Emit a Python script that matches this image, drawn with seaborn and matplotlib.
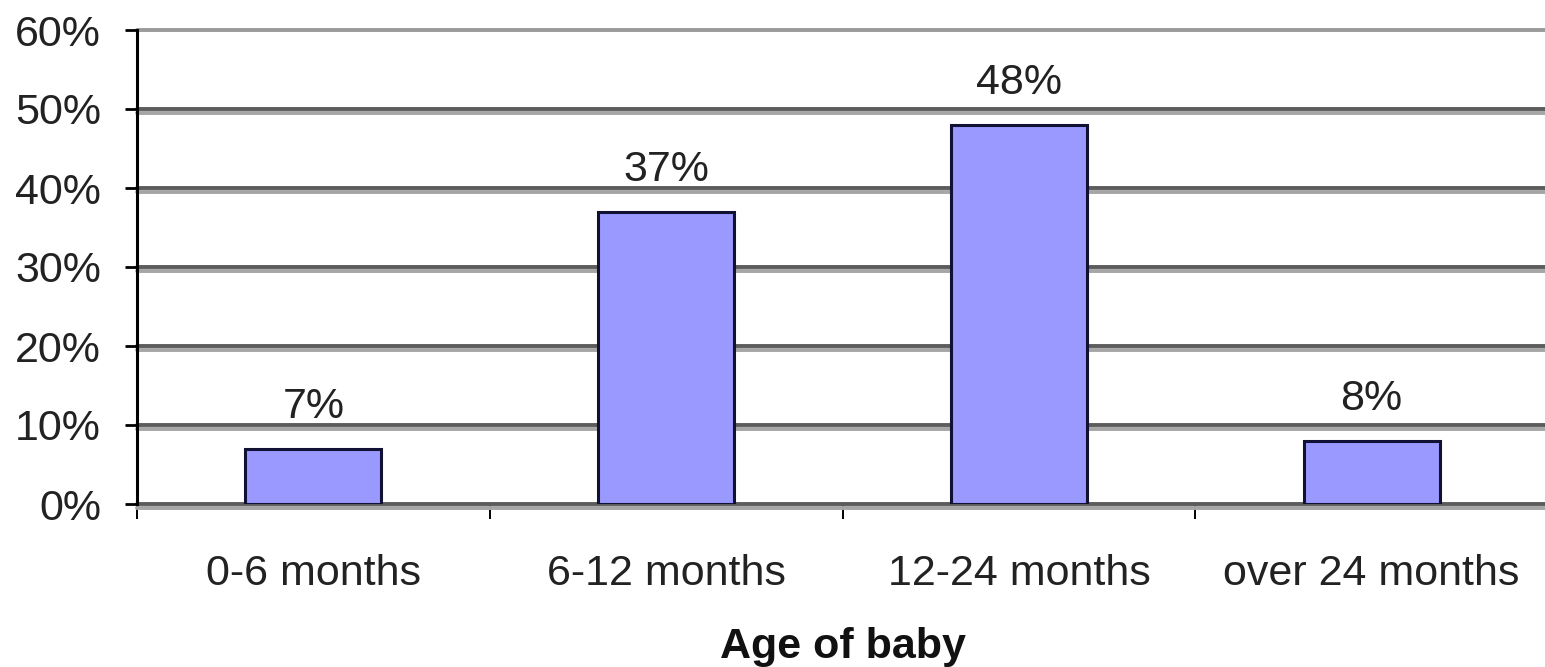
import matplotlib
matplotlib.use("Agg")
import matplotlib.pyplot as plt
import matplotlib.patheffects as pe
from matplotlib.ticker import PercentFormatter
import pandas as pd
import seaborn as sns

# Share of respondents by age of baby
age_groups = ["0-6 months", "6-12 months", "12-24 months", "over 24 months"]
share_pct = [7, 37, 48, 8]
y_ticks = [0, 10, 20, 30, 40, 50, 60]

sns.set_style("white")
plt.rcParams["font.family"] = ["Liberation Sans", "DejaVu Sans"]

W, H = 1545, 667
fig = plt.figure(figsize=(W / 100, H / 100), dpi=100)
ax = fig.add_axes([137 / W, 163 / H, 1411 / W, 474 / H])

df = pd.DataFrame({"age": age_groups, "share": share_pct})
sns.barplot(data=df, x="age", y="share", color="#9999ff", saturation=1,
            width=0.386, edgecolor="#111133", linewidth=2.2, ax=ax, zorder=3)

ax.set_xlim(-0.5, len(age_groups) - 0.5)
ax.set_ylim(0, 60)
ax.set_yticks(y_ticks)
ax.yaxis.set_major_formatter(PercentFormatter(decimals=0))

# Horizontal gridlines with a light drop shadow underneath
ax.set_axisbelow(True)
ax.yaxis.grid(True, color="#5c5c5c", linewidth=2.8)
ax.xaxis.grid(False)
grid_lines = ax.get_ygridlines()
for gl in grid_lines:
    gl.set_clip_on(False)
    gl.set_path_effects([
        pe.SimpleLineShadow(offset=(0, -2.8), shadow_color="#a6a6a6", alpha=1, rho=1),
        pe.Normal(),
    ])
grid_lines[-1].set_color("#9a9a9a")
grid_lines[-1].set_path_effects([])

for side in ("top", "right", "bottom"):
    ax.spines[side].set_visible(False)
ax.spines["left"].set_color("black")
ax.spines["left"].set_linewidth(2.2)

ax.tick_params(axis="y", direction="out", length=9, width=2, color="black",
               pad=17, labelsize=31, labelcolor="#222222", left=True)

# Category labels without tick marks; short marks between categories
ax.set_xticks(range(len(age_groups)))
ax.set_xticks([i - 0.5 for i in range(len(age_groups))], minor=True)
ax.tick_params(axis="x", which="major", length=0, pad=36, labelsize=31,
               labelcolor="#222222")
ax.tick_params(axis="x", which="minor", direction="out", length=11, width=1.4,
               color="black", bottom=True)

for i, v in enumerate(share_pct):
    ax.annotate(f"{v}%", (i, v), xytext=(0, 22), textcoords="offset points",
                ha="center", va="baseline", fontsize=31, color="#222222")

ax.set_ylabel("")
ax.set_xlabel("Age of baby", fontsize=31, fontweight="bold", labelpad=24,
              color="#111111")

fig.savefig("out.png", dpi=100)
